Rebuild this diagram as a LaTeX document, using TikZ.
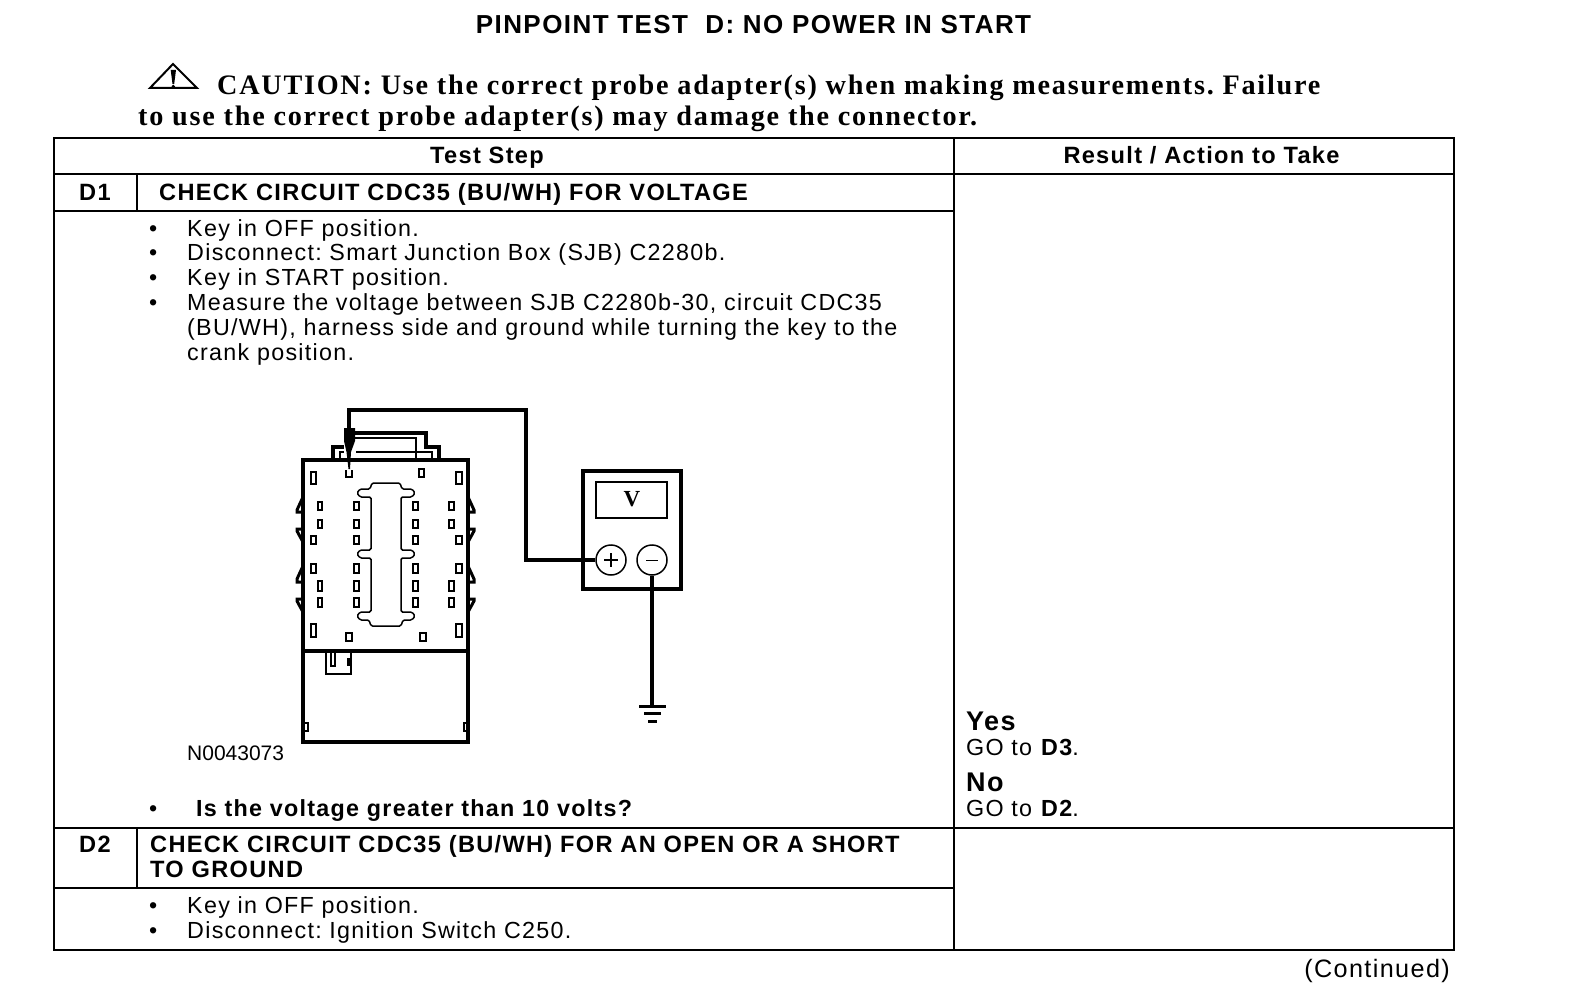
\documentclass[tikz,border=0pt]{standalone}
\usepackage{fontspec}
\setmainfont[LetterSpace=5.5]{Liberation Sans}
\newfontfamily\cautionfont[LetterSpace=6.2]{Liberation Serif}
\newfontfamily\plainfont{Liberation Serif}
\newfontfamily\figfont{Liberation Sans}
\frenchspacing

\tikzset{
  rule/.style = {line width=2.4pt},
  wire/.style = {line width=3.2pt},
  case/.style = {line width=3.2pt},
  pin/.style = {draw, line width=2pt},
  txt/.style = {anchor=base west, inner sep=0, font=\fontsize{23.3}{25}\selectfont},
  hdr/.style = {txt, font=\fontsize{23.6}{25}\selectfont\bfseries},
  cau/.style = {anchor=base west, inner sep=0, font=\fontsize{28.2}{30}\selectfont\cautionfont\bfseries},
  big/.style = {txt, font=\fontsize{27}{30}\selectfont\bfseries}
}

\begin{document}
\begin{tikzpicture}[x=1pt, y=-1pt]
  \useasboundingbox (0,0) rectangle (1584,992);

  % heading
  \node[hdr, anchor=base, font=\fontsize{26}{28}\selectfont\bfseries] (title) at (753.5,34) {PINPOINT TEST~ D: NO POWER IN START};
  \draw[line width=2pt, line join=miter] (173,64) -- (197,88) -- (150,88) -- cycle;
  \fill (170.7,70) -- (176,70) -- (174.2,84) -- (172.5,84) -- cycle;
  \fill (173.3,86.5) circle (1.8);
  \node[cau] (caution1) at (217,94.5) {CAUTION: Use the correct probe adapter(s) when making measurements. Failure};
  \node[cau] (caution2) at (138,126) {to use the correct probe adapter(s) may damage the connector.};

  % table
  \draw[rule] (54,138) rectangle (1454,950);
  \draw[rule] (954,138) -- (954,950);
  \draw[rule] (54,174) -- (1454,174);
  \draw[rule] (54,211) -- (954,211);
  \draw[rule] (54,828) -- (1454,828);
  \draw[rule] (54,888) -- (954,888);
  \draw[rule] (137,174) -- (137,211);
  \draw[rule] (137,828) -- (137,888);

  \node[hdr, anchor=base] (teststep) at (487,164) {Test Step};
  \node[hdr, anchor=base] (result) at (1201.5,164) {Result / Action to Take};
  \node[hdr] (d1) at (79,201) {D1};
  \node[hdr] (d1title) at (159,201) {CHECK CIRCUIT CDC35 (BU/WH) FOR VOLTAGE};
  \node[hdr] (d2) at (79,852.5) {D2};
  \node[hdr] (d2title) at (150,852.5) {CHECK CIRCUIT CDC35 (BU/WH) FOR AN OPEN OR A SHORT};
  \node[hdr] (d2title2) at (150,877) {TO GROUND};

  % step text
  \foreach \name/\ypos/\line in {
    keya/236.5/{Key in OFF position.},
    sjb/261/{Disconnect: Smart Junction Box (SJB) C2280b.},
    keyb/285.5/{Key in START position.},
    measure/310.5/{Measure the voltage between SJB C2280b-30, circuit CDC35},
    keyc/913/{Key in OFF position.},
    ign/938/{Disconnect: Ignition Switch C250.}}
    {
      \node[txt] (\name) at (187,\ypos) {\line};
      \node[txt] (\name dot) at (149,\ypos) {•};
    }
  \node[txt] (measure2) at (187,335.5) {(BU/WH), harness side and ground while turning the key to the};
  \node[txt] (measure3) at (187,360) {crank position.};
  \node[txt, font=\fontsize{21}{25}\selectfont\figfont] (figno) at (187,760) {N0043073};
  \node[txt] (askdot) at (149,816) {•};
  \node[hdr, font=\fontsize{23.3}{25}\selectfont\bfseries] (ask) at (196,816) {Is the voltage greater than 10 volts?};

  % answers
  \node[big] (yes) at (966,730) {Yes};
  \node[txt] (goa) at (966,755) {GO to \textbf{D3}.};
  \node[big] (no) at (966,791) {No};
  \node[txt] (gob) at (966,816) {GO to \textbf{D2}.};
  \node[txt, anchor=base east, font=\fontsize{25.2}{28}\selectfont] (cont) at (1450,977) {(Continued)};

  % connector body
  \draw[case] (303,460) rectangle (468,742);
  \draw[case] (303,651) -- (468,651);
  \draw[case] (333,460) -- (333,447) -- (344,447);
  \draw[case] (355,433) -- (426,433) -- (426,447) -- (439,447) -- (439,460);
  \draw[line width=2pt] (355,438) -- (416,438) -- (416,460);
  \draw[line width=2pt] (356,452) -- (432,452) -- (432,460);
  \draw[line width=2pt] (340,460) -- (340,452) -- (344,452);

  % pins
  \foreach \xa/\xb/\ya/\yb in {
    311/316/472/484, 456/462/472/484, 419/424/469/477,
    311/316/536/544, 456/462/536/544, 311/316/564/573, 456/462/564/573,
    311/316/624/637, 456/462/624/637, 346/352/633/641, 420/426/633/641,
    304/308/723/731, 464/468/723/731}
    \draw[pin] (\xa,\ya) rectangle (\xb,\yb);
  \foreach \ya/\yb in {502/510, 520/528, 581/591, 598/607}
    \foreach \xa/\xb in {318/322, 449/454}
      \draw[pin] (\xa,\ya) rectangle (\xb,\yb);
  \foreach \ya/\yb in {502/510, 520/528, 536/544, 564/573, 581/591, 598/607}
    \foreach \xa/\xb in {354/359, 413/418}
      \draw[pin] (\xa,\ya) rectangle (\xb,\yb);

  % clips
  \foreach \xa/\xb in {303/297, 468/474}
    {
      \draw[line width=3pt] (\xa,497) -- (\xb,510) -- (\xb,512) -- (\xa,512);
      \draw[line width=3pt] (\xa,529) -- (\xb,529) -- (\xb,531) -- (\xa,542);
      \draw[line width=3pt] (\xa,566) -- (\xb,579) -- (\xb,582) -- (\xa,582);
      \draw[line width=3pt] (\xa,599) -- (\xb,599) -- (\xb,601) -- (\xa,612);
    }

  % plug outline
  \draw[line width=1.5pt, rounded corners=1.5pt] (372,483) -- (400,483) -- (402,489) -- (412,489)
    -- (415,493) -- (412,497) -- (401,497) -- (401,550) -- (412,550) -- (415,554) -- (412,558)
    -- (401,558) -- (401,612) -- (412,612) -- (415,616) -- (412,620) -- (403,620) -- (401,626)
    -- (371,626) -- (369,620) -- (360,620) -- (357,616) -- (360,612) -- (371,612) -- (371,558)
    -- (360,558) -- (357,554) -- (360,550) -- (371,550) -- (371,497) -- (360,497) -- (357,493)
    -- (360,489) -- (370,489) -- cycle;

  % latch
  \draw[line width=2pt] (326,651) -- (326,674) -- (351,674) -- (351,651);
  \draw[line width=1.8pt] (331,651) -- (331,666) -- (335,666) -- (335,651);
  \draw[pin, fill=black] (348,659) rectangle (350,665);

  % probe
  \draw[line width=2pt] (346,470) -- (346,477) -- (352,477) -- (352,470);
  \fill (344,428) -- (355,428) -- (355,441) -- (351,452) -- (350,469) -- (348.5,469) -- (346.5,452) -- (344,441) -- cycle;
  \coordinate (probetop) at (349,428);

  % meter
  \draw[case, line width=3.6pt] (583,471) rectangle (681,589);
  \draw[line width=2pt] (596,482) rectangle (667,518);
  \node[inner sep=0, font=\fontsize{23}{25}\selectfont\plainfont\bfseries] (vsign) at (632,499) {V};
  \node[circle, draw, fill=white, line width=1.5pt, minimum size=30pt, inner sep=0] (plus) at (611,560) {};
  \node[circle, draw, fill=white, line width=1.5pt, minimum size=30pt, inner sep=0] (minus) at (652,560) {};
  \draw[line width=1.6pt] (604,560) -- (618,560) (611,553) -- (611,567);
  \draw[line width=1pt] (646,560) -- (658,560);
  \coordinate (wirebend) at (526,410);
  \coordinate (gnd) at (652,706);
  \draw[wire] (probetop) |- (wirebend) |- (plus.west);
  \draw[wire] (minus.south) -- (gnd);

  % ground
  \draw[line width=3pt] (639,706) -- (666,706);
  \draw[line width=3pt] (644,713.5) -- (661,713.5);
  \draw[line width=3pt] (648,721) -- (657,721);
\end{tikzpicture}
\end{document}
